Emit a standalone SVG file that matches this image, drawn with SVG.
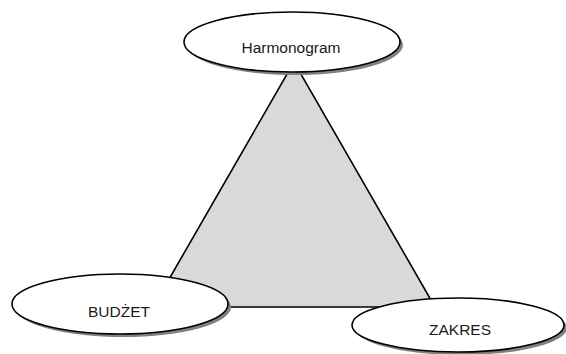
<svg xmlns="http://www.w3.org/2000/svg" width="566" height="354" viewBox="0 0 566 354">
  <style>
    .shadow { fill: #808080; stroke: none; }
    .node { fill: #ffffff; stroke: #000000; stroke-width: 1.6; }
    .label { font-family: "Liberation Sans", Arial, sans-serif; font-size: 15.5px; fill: #1a1a1a; text-anchor: middle; }
  </style>
  <rect width="566" height="354" fill="#ffffff"/>
  <g id="connectors">
    <polygon points="294,62 153,307 435,307" fill="#d9d9d9" stroke="#000000" stroke-width="1.6" stroke-linejoin="miter"/>
  </g>
  <g id="harmonogram">
    <ellipse class="shadow" cx="295" cy="45" rx="108" ry="30"/>
    <ellipse class="node" cx="292" cy="42" rx="108" ry="30"/>
    <text class="label" x="291" y="53">Harmonogram</text>
  </g>
  <g id="budzet">
    <ellipse class="shadow" cx="123" cy="307" rx="108" ry="30"/>
    <ellipse class="node" cx="120" cy="304" rx="108" ry="30"/>
    <text class="label" x="119" y="317">BUDŻET</text>
  </g>
  <g id="zakres">
    <ellipse class="shadow" cx="461" cy="328" rx="106" ry="27"/>
    <ellipse class="node" cx="458" cy="325" rx="106" ry="27"/>
    <text class="label" x="460" y="335">ZAKRES</text>
  </g>
</svg>
